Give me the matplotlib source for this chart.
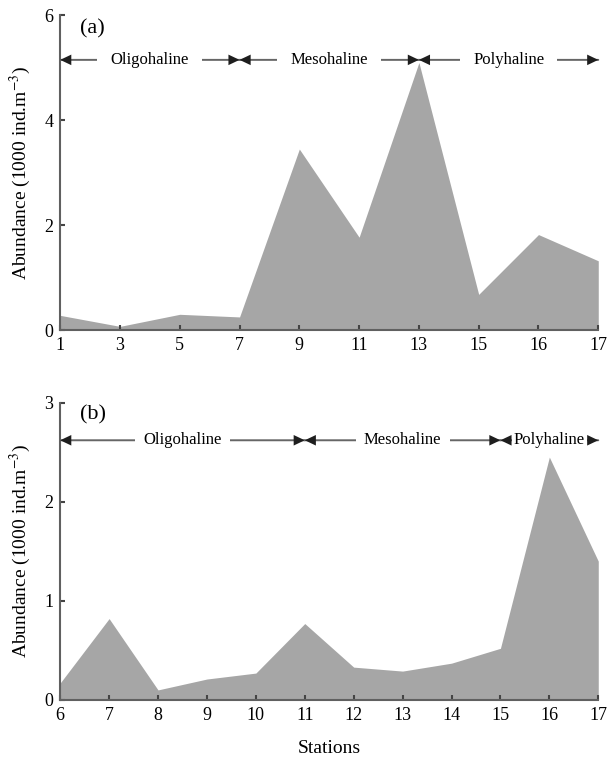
import numpy as np
import matplotlib.pyplot as plt

plt.rcParams['font.family'] = ['Liberation Serif', 'DejaVu Serif']
plt.rcParams['mathtext.fontset'] = 'stix'

# panel (a)
stations_a = ['1', '3', '5', '7', '9', '11', '13', '15', '16', '17']
abund_a = [0.28, 0.07, 0.30, 0.25, 3.45, 1.77, 5.10, 0.68, 1.82, 1.32]
zones_a = [('Oligohaline', 0, 3), ('Mesohaline', 3, 6), ('Polyhaline', 6, 9)]

# panel (b)
stations_b = [6, 7, 8, 9, 10, 11, 12, 13, 14, 15, 16, 17]
abund_b = [0.17, 0.82, 0.10, 0.21, 0.27, 0.77, 0.33, 0.29, 0.37, 0.52, 2.45, 1.40]
zones_b = [('Oligohaline', 6, 11), ('Mesohaline', 11, 15), ('Polyhaline', 15, 17)]

fill_col = '#a6a6a6'
spine_col = '#606060'

fig = plt.figure(figsize=(6.08, 7.64), dpi=100)
ax1 = fig.add_axes([0.099, 0.568, 0.885, 0.412])
ax2 = fig.add_axes([0.099, 0.084, 0.885, 0.389])


def style(ax):
    for s in ['top', 'right']:
        ax.spines[s].set_visible(False)
    for s in ['left', 'bottom']:
        ax.spines[s].set_color(spine_col)
        ax.spines[s].set_linewidth(1.5)
    ax.tick_params(direction='in', length=3.5, width=1.5, color='#444444',
                   labelsize=13, pad=5)
    ax.set_ylabel('Abundance (1000 ind.m$^{-3}$)', fontsize=14, labelpad=8)


def zone_arrows(ax, zones, y, pads):
    for (name, x0, x1), p in zip(zones, pads):
        # gray shaft, dark heads
        ax.annotate('', xy=(x1, y), xytext=(x0, y),
                    arrowprops=dict(arrowstyle='-', color='#666666', lw=1.4,
                                    shrinkA=0, shrinkB=0), zorder=3)
        ax.annotate('', xy=(x1, y), xytext=(x0, y),
                    arrowprops=dict(arrowstyle='<|-|>,head_length=0.8,head_width=0.38',
                                    color='#1e1e1e', lw=0, mutation_scale=10,
                                    shrinkA=0, shrinkB=0), zorder=3)
        ax.text((x0 + x1) / 2, y, name, fontsize=12, ha='center', va='center',
                zorder=4, bbox=dict(boxstyle='square,pad=%s' % p, fc='white', ec='none'))


xa = np.arange(len(stations_a))
ax1.fill_between(xa, 0, abund_a, color=fill_col, lw=0)
ax1.set_xlim(0, len(stations_a) - 1)
ax1.set_ylim(0, 6)
ax1.set_xticks(xa)
ax1.set_xticklabels(stations_a)
ax1.set_yticks([0, 2, 4, 6])
style(ax1)
zone_arrows(ax1, zones_a, 5.15, [0.8, 0.8, 0.8])
ax1.text(0.036, 0.956, '(a)', transform=ax1.transAxes, fontsize=16, ha='left', va='center')

ax2.fill_between(stations_b, 0, abund_b, color=fill_col, lw=0)
ax2.set_xlim(6, 17)
ax2.set_ylim(0, 3)
ax2.set_xticks(stations_b)
ax2.set_yticks([0, 1, 2, 3])
style(ax2)
zone_arrows(ax2, zones_b, 2.62, [0.5, 0.5, 0.12])
ax2.text(0.036, 0.96, '(b)', transform=ax2.transAxes, fontsize=16, ha='left', va='center')
ax2.set_xlabel('Stations', fontsize=14, labelpad=12)

fig.savefig('out.png', dpi=100)
